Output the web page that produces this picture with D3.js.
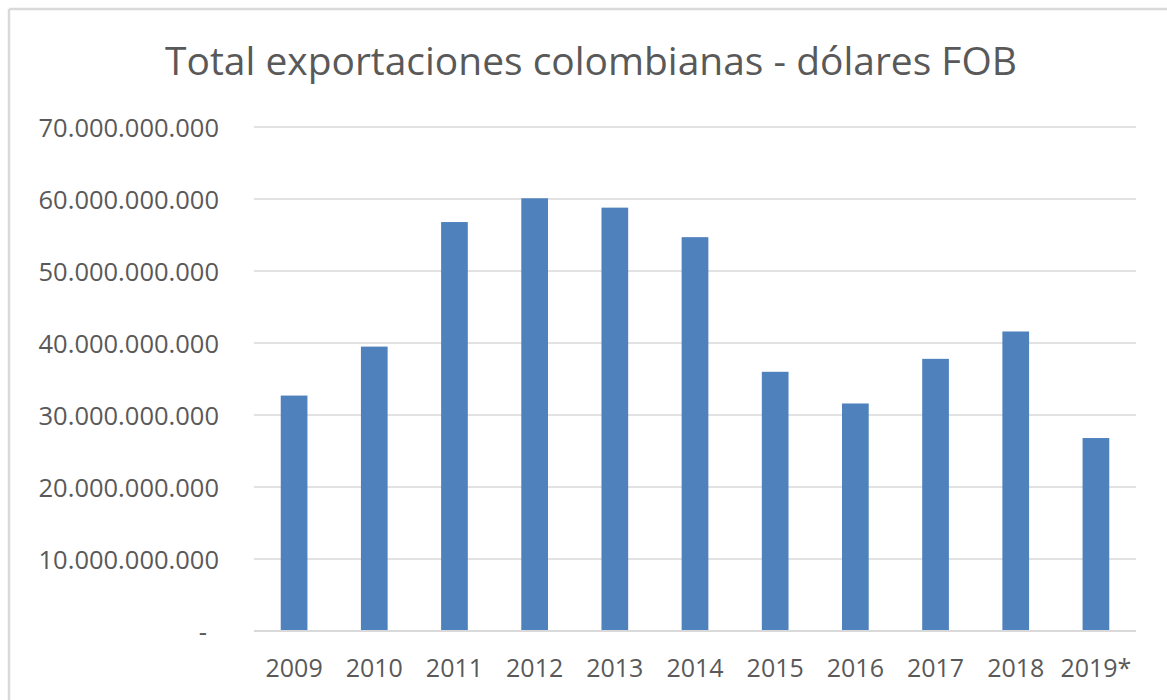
<!DOCTYPE html>
<html>
<head>
<meta charset="utf-8">
<script src="https://cdn.jsdelivr.net/npm/d3@7"></script>
<style>
  html, body { margin: 0; padding: 0; background: #ffffff; }
  svg { display: block; }
  text { font-family: "Open Sans", "Noto Sans", sans-serif; }
</style>
</head>
<body>
<svg id="chart" width="1167" height="700"></svg>
<script>
const titleText = "Total exportaciones colombianas - dólares FOB";
const years = ["2009", "2010", "2011", "2012", "2013", "2014", "2015", "2016", "2017", "2018", "2019*"];
const exportsUSD = [32.7e9, 39.5e9, 56.8e9, 60.1e9, 58.8e9, 54.7e9, 36.0e9, 31.6e9, 37.8e9, 41.6e9, 26.8e9];
const yTicks = [0, 10e9, 20e9, 30e9, 40e9, 50e9, 60e9, 70e9];

const svg = d3.select("#chart");
const W = 1167, H = 700;
const plot = { left: 254, right: 1136, top: 127, bottom: 631 };

// chart-area border (top and left visible)
svg.append("line").attr("x1", 9).attr("x2", W).attr("y1", 9).attr("y2", 9)
  .attr("stroke", "#d9d9d9").attr("stroke-width", 2.5);
svg.append("line").attr("x1", 9).attr("x2", 9).attr("y1", 9).attr("y2", H)
  .attr("stroke", "#d9d9d9").attr("stroke-width", 2.5);

const x = d3.scaleBand().domain(years).range([plot.left, plot.right])
  .paddingInner(0.667).paddingOuter(0.3335);
const y = d3.scaleLinear().domain([0, 70e9]).range([plot.bottom, plot.top]);

const fmt = v => v === 0 ? "-" : d3.format(",.0f")(v).replace(/,/g, ".");

// gridlines
svg.append("g").selectAll("line").data(yTicks).join("line")
  .attr("x1", plot.left).attr("x2", plot.right)
  .attr("y1", d => y(d)).attr("y2", d => y(d))
  .attr("stroke", "#d9d9d9").attr("stroke-width", d => d === 0 ? 2 : 1.5);

// y axis labels
const yAxis = d3.axisLeft(y).tickValues(yTicks).tickFormat(fmt).tickSize(0).tickPadding(0);
const gy = svg.append("g").attr("transform", `translate(219,0)`).call(yAxis);
gy.select(".domain").remove();
gy.selectAll("text")
  .attr("font-family", "'Open Sans', 'Noto Sans', sans-serif")
  .attr("font-size", 25.5).attr("fill", "#595959").attr("dy", "0.36em")
  .attr("dx", d => d === 0 ? -12 : 0);

// bars
svg.append("g").selectAll("rect").data(years).join("rect")
  .attr("x", d => x(d))
  .attr("width", x.bandwidth())
  .attr("y", (d, i) => y(exportsUSD[i]))
  .attr("height", (d, i) => y(0) - y(exportsUSD[i]))
  .attr("fill", "#4f81bd");

// baseline above bars
svg.append("line").attr("x1", plot.left).attr("x2", plot.right)
  .attr("y1", y(0)).attr("y2", y(0)).attr("stroke", "#d9d9d9").attr("stroke-width", 2);

// x axis labels
const xAxis = d3.axisBottom(x).tickSize(0).tickPadding(0);
const gx = svg.append("g").attr("transform", `translate(0,677)`).call(xAxis);
gx.select(".domain").remove();
gx.selectAll("text")
  .attr("font-family", "'Open Sans', 'Noto Sans', sans-serif")
  .attr("font-size", 25).attr("fill", "#595959").attr("dy", 0);

// title
const t = svg.append("text")
  .attr("x", 591).attr("y", 75).attr("text-anchor", "middle")
  .attr("font-size", 38).attr("font-weight", 400).attr("fill", "#595959")
  .text(titleText);
const tw = t.node().getComputedTextLength();
if (tw > 0) t.attr("font-size", 38 * 852 / tw);
</script>
</body>
</html>
